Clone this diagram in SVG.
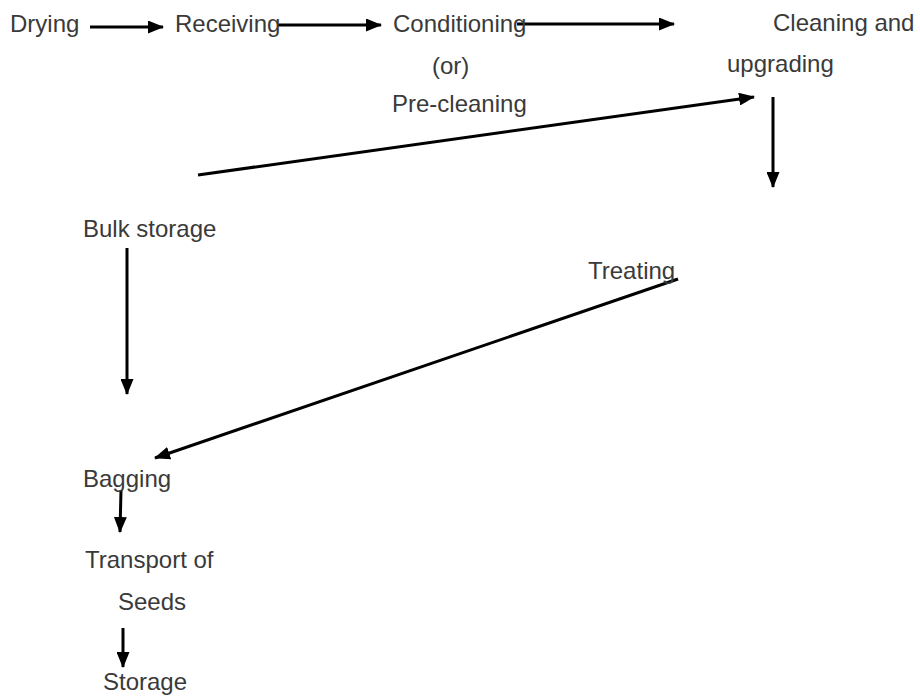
<svg xmlns="http://www.w3.org/2000/svg" width="920" height="699" viewBox="0 0 920 699">
<style>
.t{font-family:"Liberation Sans",Arial,sans-serif;font-size:24px;fill:#3a3a3a}
.c{stroke:#000;stroke-width:3;fill:none;marker-end:url(#ah)}
</style>
<defs>
<marker id="ah" markerUnits="userSpaceOnUse" markerWidth="16" markerHeight="13" refX="15" refY="6.5" orient="auto">
<path d="M0,0 L16,6.5 L0,13 z" fill="#000"/>
</marker>
</defs>
<rect width="920" height="699" fill="#fff"/>
<g id="connectors">
<line class="c" x1="90" y1="27" x2="163" y2="27"/>
<line class="c" x1="277" y1="25" x2="381" y2="25"/>
<line class="c" x1="517" y1="24" x2="674" y2="24"/>
<line class="c" x1="198" y1="175" x2="754" y2="97"/>
<line class="c" x1="773" y1="97" x2="773" y2="187"/>
<line class="c" x1="127" y1="248" x2="127" y2="394"/>
<line class="c" x1="678" y1="279" x2="155" y2="458"/>
<line class="c" x1="121" y1="490" x2="120" y2="532"/>
<line class="c" x1="123" y1="628" x2="123" y2="667"/>
</g>
<g id="drying"><text class="t" x="10" y="32">Drying</text></g>
<g id="receiving"><text class="t" x="175" y="32">Receiving</text></g>
<g id="conditioning">
<text class="t" x="393" y="32">Conditioning</text>
<text class="t" x="432" y="74">(or)</text>
<text class="t" x="392" y="112">Pre-cleaning</text>
</g>
<g id="cleaning">
<text class="t" x="773" y="31">Cleaning and</text>
<text class="t" x="727" y="72">upgrading</text>
</g>
<g id="bulk-storage"><text class="t" x="83" y="237">Bulk storage</text></g>
<g id="treating"><text class="t" x="588" y="279">Treating</text></g>
<g id="bagging"><text class="t" x="83" y="487">Bagging</text></g>
<g id="transport">
<text class="t" x="85" y="568">Transport of</text>
<text class="t" x="118" y="610">Seeds</text>
</g>
<g id="storage"><text class="t" x="103" y="690">Storage</text></g>
</svg>
